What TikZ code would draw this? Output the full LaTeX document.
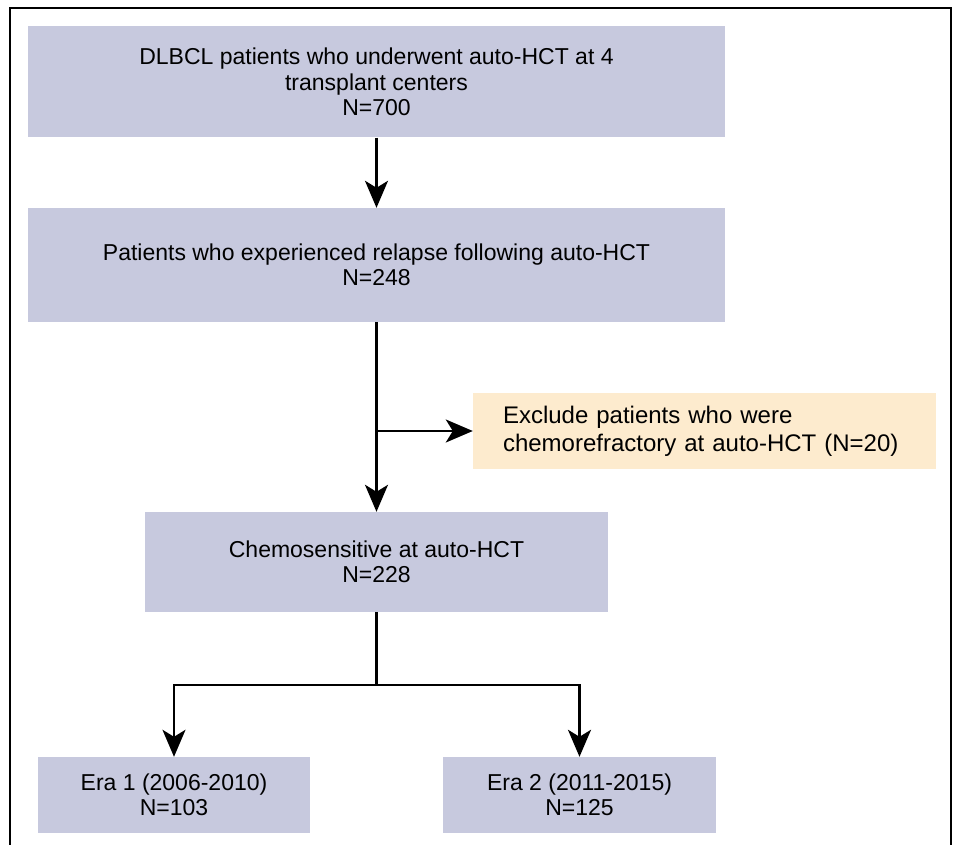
\documentclass[tikz,border=0pt]{standalone}
\usepackage{fontspec}
\setmainfont{Liberation Sans}
\usetikzlibrary{arrows.meta}
\definecolor{boxgray}{RGB}{199,201,222}
\definecolor{boxorange}{RGB}{253,235,206}
\begin{document}
\begin{tikzpicture}[x=1pt,y=-1pt,
  gbox/.style={fill=boxgray, inner sep=0pt, align=center, font=\fontsize{23}{25.5}\selectfont},
  obox/.style={fill=boxorange, inner ysep=0pt, inner xsep=30pt, text width=403pt, align=left, font=\fontsize{24}{28}\selectfont},
  arr/.style={line width=2.5pt, -{Stealth[length=27pt,width=23pt,inset=7pt]}},
  ln/.style={line width=2.5pt},
  frame/.style={line width=2.5pt}]
\useasboundingbox (0,0) rectangle (955,845);
\draw[frame] (10,846) -- (10,8) -- (951,8) -- (951,846);
\node[gbox, minimum width=697pt, minimum height=111pt] (n1) at (376.5,82)
  {DLBCL patients who underwent auto-HCT at 4\\transplant centers\\N=700};
\node[gbox, minimum width=697pt, minimum height=114pt] (n2) at (376.5,265)
  {Patients who experienced relapse following auto-HCT\\N=248};
\node[obox, minimum height=76pt] (ex) at (704.5,431)
  {Exclude patients who were\\chemorefractory at auto-HCT (N=20)};
\node[gbox, minimum width=463pt, minimum height=100pt] (n3) at (376.5,562)
  {Chemosensitive at auto-HCT\\N=228};
\node[gbox, minimum width=272pt, minimum height=76pt] (e1) at (174,795)
  {Era 1 (2006-2010)\\N=103};
\node[gbox, minimum width=273pt, minimum height=76pt] (e2) at (579.5,795)
  {Era 2 (2011-2015)\\N=125};
\coordinate (b) at (376.5,431);
\coordinate (s) at (376.5,685);
\draw[arr] (n1.south) -- (n2.north);
\draw[arr] (n2.south) -- (n3.north);
\draw[arr] (b) -- (ex.west);
\draw[ln] (n3.south) -- (s);
\draw[arr] (s) -| (e1.north);
\draw[arr] (s) -| (e2.north);
\end{tikzpicture}
\end{document}
